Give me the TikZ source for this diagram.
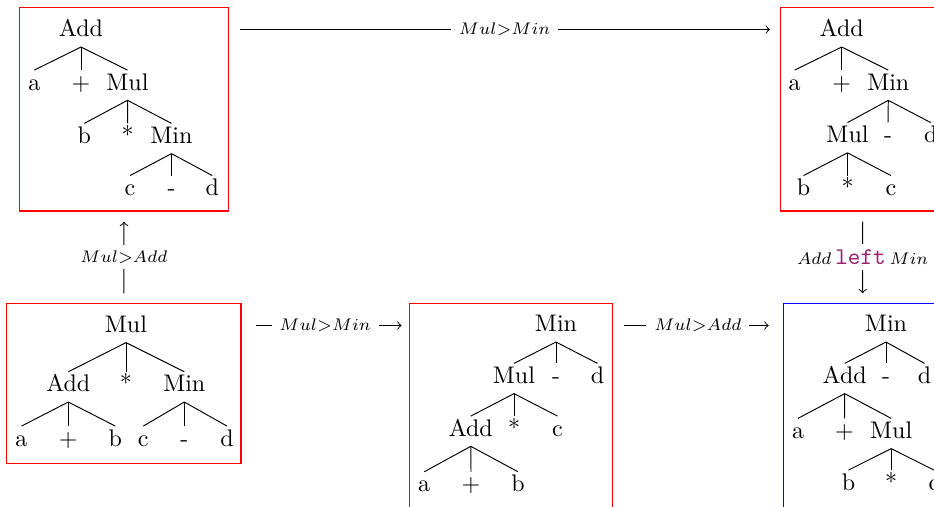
\documentclass[tikz,border=0pt]{standalone}
\usetikzlibrary{fit}
\definecolor{kw}{RGB}{155,35,110}
\begin{document}
\begin{tikzpicture}[x=0.41667pt,y=-0.41667pt,
  tn/.style={inner sep=0pt,outer sep=0pt,text height=8.3pt,text depth=4.3pt,anchor=base},
  tedge/.style={line width=0.4pt},
  boxframe/.style={inner sep=0pt,outer sep=0pt,line width=0.6pt},
  arr/.style={->,line width=0.4pt},
  lbl/.style={fill=white,inner xsep=3.3pt,inner ysep=2.4pt}]
\useasboundingbox (0,0) rectangle (934,506);
\clip (0,0) rectangle (934,506);

% ---------- boxes ----------
\node[boxframe,draw=red,fit={(19.5,7.5) (228.5,211)}] (boxTL) {};
\node[boxframe,draw=red,fit={(780.7,7.5) (944.7,211)}] (boxTR) {};
\node[boxframe,draw=red,fit={(6.7,303.3) (241,463.3)}] (boxBL) {};
\node[boxframe,draw=red,fit={(409.3,303.3) (612.3,515)}] (boxBM) {};
\node[boxframe,draw=blue,fit={(783.3,303.3) (942,515)}] (boxBR) {};

% ---------- tree top-left ----------
\node[tn] (tlA) at (81,36.7) {Add};
\node[tn] (tla) at (34.3,90) {a};
\node[tn] (tlp) at (81,90) {+};
\node[tn] (tlM) at (127.5,90) {Mul};
\node[tn] (tlb) at (84.3,143.3) {b};
\node[tn] (tls) at (127.7,143.3) {*};
\node[tn] (tlN) at (171.5,143.3) {Min};
\node[tn] (tlc) at (130,195.5) {c};
\node[tn] (tlm) at (171.5,195.5) {-};
\node[tn] (tld) at (212.3,195.5) {d};

% ---------- tree top-right ----------
\node[tn] (trA) at (841.7,36.7) {Add};
\node[tn] (tra) at (794.7,90) {a};
\node[tn] (trp) at (841.7,90) {+};
\node[tn] (trN) at (888.3,90) {Min};
\node[tn] (trM) at (847.5,142.5) {Mul};
\node[tn] (trm) at (888,142.5) {-};
\node[tn] (trd) at (930.7,142.5) {d};
\node[tn] (trb) at (803.5,195.5) {b};
\node[tn] (trs) at (847.5,195.5) {*};
\node[tn] (trc) at (891,195.5) {c};

% ---------- tree bottom-left ----------
\node[tn] (blM) at (126,332.3) {Mul};
\node[tn] (blA) at (68.3,391.7) {Add};
\node[tn] (bls) at (126,391.7) {*};
\node[tn] (blN) at (184.3,391.7) {Min};
\node[tn] (bla) at (21.5,446) {a};
\node[tn] (blp) at (68.3,446) {+};
\node[tn] (blb) at (115.3,446) {b};
\node[tn] (blc) at (143.3,446) {c};
\node[tn] (blm) at (184.3,446) {-};
\node[tn] (bld) at (227,446) {d};

% ---------- tree bottom-middle ----------
\node[tn] (bmN) at (556,331.7) {Min};
\node[tn] (bmM) at (514,383.3) {Mul};
\node[tn] (bmm) at (556,383.3) {-};
\node[tn] (bmd) at (597.5,383.3) {d};
\node[tn] (bmA) at (470.8,436) {Add};
\node[tn] (bms) at (514,436) {*};
\node[tn] (bmc) at (557.5,436) {c};
\node[tn] (bma) at (424.2,491.7) {a};
\node[tn] (bmp) at (471,491.7) {+};
\node[tn] (bmb) at (518,491.7) {b};

% ---------- tree bottom-right ----------
\node[tn] (brN) at (886,331.7) {Min};
\node[tn] (brA) at (844.7,383.3) {Add};
\node[tn] (brm) at (886,383.3) {-};
\node[tn] (brd) at (924.5,383.3) {d};
\node[tn] (bra) at (798,438.3) {a};
\node[tn] (brp) at (844.5,438.3) {+};
\node[tn] (brM) at (891.2,438.3) {Mul};
\node[tn] (brb) at (848.5,490) {b};
\node[tn] (brs) at (891.2,490) {*};
\node[tn] (brc) at (934,490) {c};

% ---------- tree edges ----------
\foreach \p/\c in {tlA/tla,tlA/tlp,tlA/tlM,tlM/tlb,tlM/tls,tlM/tlN,tlN/tlc,tlN/tlm,tlN/tld,
                   trA/tra,trA/trp,trA/trN,trN/trM,trN/trm,trN/trd,trM/trb,trM/trs,trM/trc,
                   blM/blA,blM/bls,blM/blN,blA/bla,blA/blp,blA/blb,blN/blc,blN/blm,blN/bld,
                   bmN/bmM,bmN/bmm,bmN/bmd,bmM/bmA,bmM/bms,bmM/bmc,bmA/bma,bmA/bmp,bmA/bmb,
                   brN/brA,brN/brm,brN/brd,brA/bra,brA/brp,brA/brM,brM/brb,brM/brs,brM/brc}
  \draw[tedge] (\p.south) -- (\c.north);

% ---------- transformation arrows ----------
\coordinate (ya) at (0,29.5);
\coordinate (yb) at (0,325.5);
\draw[arr,shorten <=4.8pt,shorten >=4.45pt] (boxTL.east |- ya) -- node[lbl]{$\scriptstyle Mul>Min$} (boxTR.west |- ya);
\draw[arr,shorten <=4.17pt,shorten >=4.45pt] (boxBL.north) -- node[lbl]{$\scriptstyle Mul>Add$} (boxTL.south);
\draw[arr,shorten <=6.25pt,shorten >=3.2pt] (boxBL.east |- yb) -- node[lbl]{$\scriptstyle Mul>Min$} (boxBM.west |- yb);
\draw[arr,shorten <=4.75pt,shorten >=6.1pt] (boxBM.east |- yb) -- node[lbl]{$\scriptstyle Mul>Add$} (boxBR.west |- yb);
\draw[arr,shorten <=4.45pt,shorten >=4.17pt] (boxTR.south) -- node[lbl]{$\scriptstyle Add$\kern1.6pt{\ttfamily\color{kw}left}\kern1.6pt$\scriptstyle Min$} (boxBR.north);
\end{tikzpicture}
\end{document}
